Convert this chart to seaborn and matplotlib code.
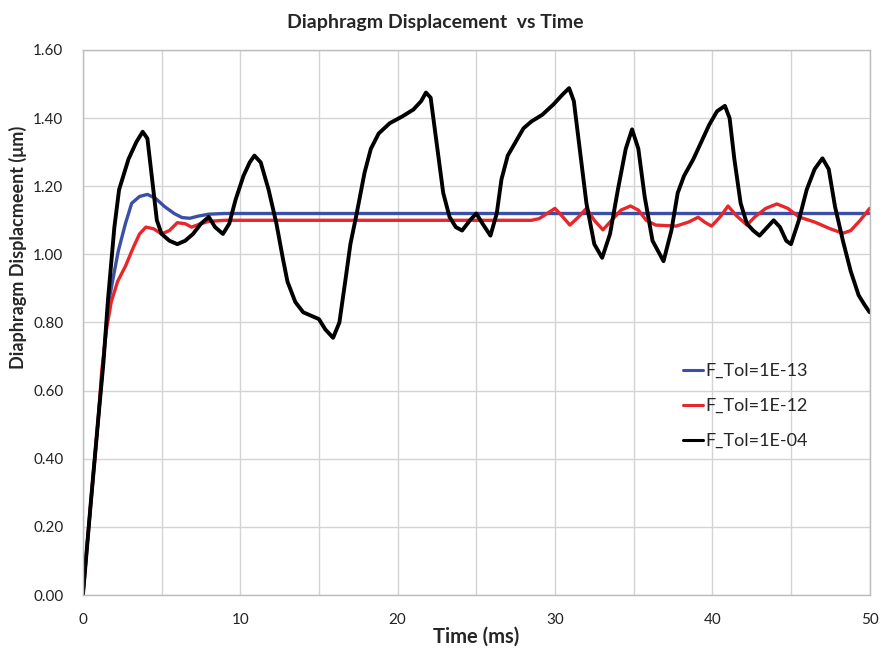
import pandas as pd
import matplotlib
matplotlib.use("Agg")
import matplotlib.pyplot as plt
import seaborn as sns

# values (time in ms, displacement in um)
t_blue = [0, 0.5, 1.0, 1.3, 1.6, 2.0, 2.25, 2.7, 3.1, 3.6, 4.1, 4.6, 5.2, 5.8,
          6.3, 6.8, 7.3, 8.0, 9.0, 10, 20, 30, 40, 50]
d_blue = [0, 0.27, 0.53, 0.69, 0.85, 0.95, 1.01, 1.09, 1.15, 1.17, 1.176, 1.165,
          1.14, 1.12, 1.108, 1.106, 1.112, 1.118, 1.12, 1.12, 1.12, 1.12, 1.12, 1.12]

t_red = [0, 0.5, 1.0, 1.2, 1.5, 1.8, 2.2, 2.7, 3.2, 3.6, 4.0, 4.5, 5.0, 5.5, 6.0,
         6.5, 6.9, 7.5, 8.0, 9.0, 15, 20, 28.5, 29.0, 30.0, 30.5, 30.95, 31.5,
         32.0, 32.5, 33.05, 33.6, 34.2, 34.8, 35.3, 35.8, 36.4, 37.7, 38.5, 39.1,
         39.5, 39.95, 40.5, 41.0, 41.5, 42.2, 42.7, 43.4, 44.1, 44.8, 45.5, 46.5,
         47.5, 48.3, 48.8, 49.4, 50]
d_red = [0, 0.27, 0.53, 0.66, 0.78, 0.86, 0.92, 0.965, 1.02, 1.06, 1.08, 1.075,
         1.06, 1.07, 1.093, 1.09, 1.08, 1.09, 1.097, 1.10, 1.10, 1.10, 1.10, 1.105,
         1.135, 1.11, 1.086, 1.11, 1.135, 1.10, 1.072, 1.10, 1.13, 1.142, 1.13,
         1.10, 1.086, 1.083, 1.095, 1.109, 1.095, 1.083, 1.11, 1.142, 1.115, 1.086,
         1.11, 1.135, 1.148, 1.135, 1.11, 1.095, 1.075, 1.062, 1.07, 1.10, 1.135]

t_black = [0, 0.5, 1.0, 1.3, 1.6, 2.0, 2.3, 2.9, 3.4, 3.8, 4.1, 4.4, 4.7, 5.0,
           5.5, 6.0, 6.5, 7.0, 7.5, 8.0, 8.4, 8.9, 9.3, 9.7, 10.2, 10.6, 10.9,
           11.3, 11.8, 12.3, 12.7, 13.0, 13.5, 14.0, 14.5, 15.0, 15.4, 15.9, 16.3,
           16.7, 17.0, 17.4, 17.9, 18.3, 18.8, 19.5, 20.3, 21.0, 21.5, 21.8, 22.1,
           22.5, 22.9, 23.3, 23.7, 24.1, 24.6, 25.0, 25.4, 25.9, 26.3, 26.6, 27.0,
           27.5, 28.0, 28.5, 29.2, 29.9, 30.5, 30.9, 31.2, 31.6, 32.0, 32.5, 33.0,
           33.5, 34.0, 34.5, 34.9, 35.3, 35.7, 36.2, 36.9, 37.4, 37.8, 38.2, 38.8,
           39.3, 39.8, 40.3, 40.8, 41.1, 41.4, 41.8, 42.2, 42.6, 43.0, 43.5, 43.9,
           44.3, 44.7, 45.0, 45.5, 46.0, 46.5, 47.0, 47.4, 47.8, 48.3, 48.8, 49.3,
           49.7, 50.0]
d_black = [0, 0.27, 0.53, 0.68, 0.87, 1.08, 1.19, 1.28, 1.33, 1.36, 1.34, 1.22,
           1.10, 1.06, 1.04, 1.03, 1.04, 1.06, 1.09, 1.11, 1.08, 1.06, 1.09, 1.16,
           1.23, 1.27, 1.29, 1.27, 1.19, 1.09, 0.99, 0.92, 0.86, 0.83, 0.82, 0.81,
           0.78, 0.755, 0.80, 0.93, 1.03, 1.12, 1.24, 1.31, 1.355, 1.385, 1.405,
           1.425, 1.45, 1.475, 1.46, 1.32, 1.18, 1.11, 1.08, 1.07, 1.10, 1.12, 1.09,
           1.055, 1.12, 1.22, 1.29, 1.33, 1.37, 1.39, 1.41, 1.44, 1.47, 1.488, 1.45,
           1.30, 1.15, 1.03, 0.99, 1.06, 1.19, 1.31, 1.367, 1.31, 1.17, 1.04, 0.98,
           1.07, 1.18, 1.23, 1.28, 1.33, 1.38, 1.42, 1.436, 1.40, 1.28, 1.15, 1.09,
           1.07, 1.055, 1.08, 1.10, 1.08, 1.04, 1.03, 1.10, 1.19, 1.25, 1.282, 1.25,
           1.14, 1.04, 0.95, 0.88, 0.85, 0.83]

labels = ["F_Tol=1E-13", "F_Tol=1E-12", "F_Tol=1E-04"]
colors = ["#3B4FA6", "#E8262B", "#000000"]

df = pd.concat([
    pd.DataFrame({"Time": t_blue, "Disp": d_blue, "Series": labels[0]}),
    pd.DataFrame({"Time": t_red, "Disp": d_red, "Series": labels[1]}),
    pd.DataFrame({"Time": t_black, "Disp": d_black, "Series": labels[2]}),
], ignore_index=True)

sns.set_style("white")
plt.rcParams['font.family'] = ['Lato', 'DejaVu Sans']

fig = plt.figure(figsize=(8.82, 6.5), dpi=100)
ax = fig.add_axes([0.094, 0.0846, 0.892, 0.8385])

sns.lineplot(data=df, x="Time", y="Disp", hue="Series", palette=colors,
             hue_order=labels, sort=False, estimator=None, linewidth=2.4, ax=ax)
for line in ax.lines:
    line.set_solid_joinstyle("round")
    if line.get_color() in ("#000000", "k"):
        line.set_linewidth(2.8)

ax.set_xlim(0, 50)
ax.set_ylim(0, 1.6)
ax.set_xticks(range(0, 51, 10))
ax.set_xticks(range(0, 51, 5), minor=True)
ax.set_yticks([i * 0.2 for i in range(9)])
ax.set_yticklabels([f"{i * 0.2:.2f}" for i in range(9)])
ax.grid(True, which="both", color="#d4d4d4", linewidth=1)
ax.tick_params(axis="both", which="both", length=0, labelsize=11, colors="#222222")
ax.tick_params(axis="x", pad=13)
ax.tick_params(axis="y", pad=14)
for s in ax.spines.values():
    s.set_color("#bcbcbc")
    s.set_linewidth(1)

fig.suptitle("Diaphragm Displacement  vs Time", x=0.494, y=0.965, va="center",
             fontsize=14, fontweight="bold")
ax.set_xlabel("Time (ms)", fontsize=14.5, fontweight="bold", labelpad=0)
ax.set_ylabel("Diaphragm Displacmeent (μm)", fontsize=13, fontweight="bold")
ax.yaxis.set_label_coords(-0.083, 0.637)
ax.yaxis.label.set_verticalalignment("center")

leg = ax.legend(loc="upper left", bbox_to_anchor=(0.742, 0.455), frameon=False,
                fontsize=13, handlelength=1.1, handletextpad=0.15, labelspacing=1.05)
for h in leg.get_lines():
    h.set_linewidth(2.2)

fig.savefig("out.png", dpi=100)
